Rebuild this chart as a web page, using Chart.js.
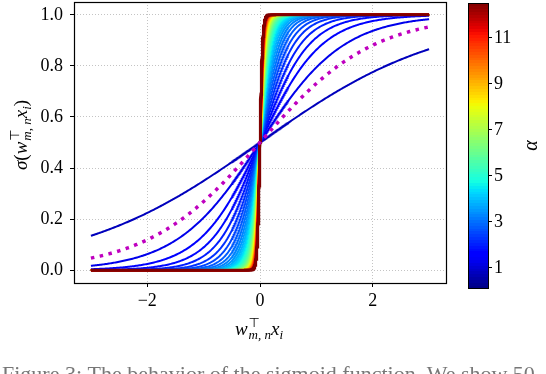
<!DOCTYPE html>
<html><head><meta charset="utf-8">
<script src="https://cdn.jsdelivr.net/npm/chart.js@4/dist/chart.umd.min.js"></script>
<style>html,body{margin:0;padding:0;background:#fff}canvas{display:block}</style>
</head><body>
<canvas id="c" width="546" height="374"></canvas>
<script>
// ---- data ----
// colour value (alpha) of each curve, as placed on the colour bar
const alphas = [0.75, 1.25, 1.5, 1.75, 2.0, 2.25, 2.5, 2.75, 3.0, 3.25, 3.5, 3.75, 4.0, 4.25, 4.5,
  4.75, 5.0, 5.25, 5.5, 5.75, 6.0, 6.25, 6.5, 6.75, 7.0, 7.25, 7.5, 7.75, 8.0, 8.25, 8.5, 8.75,
  9.0, 9.25, 9.5, 9.75, 10.0, 10.25, 10.5, 10.75, 11.0, 11.25, 11.5, 11.75, 12.0, 12.25, 12.5];
// steepness of each curve, estimated from where it crosses the 0.1 / 0.9 levels
const slopes = [0.62, 1.35, 1.84, 2.32, 2.83, 3.38, 3.95, 4.56, 5.2, 5.86, 6.55, 7.26, 8.0, 8.76, 9.55,
  10.35, 11.18, 12.03, 12.9, 13.79, 14.7, 15.63, 16.57, 17.54, 18.52, 19.52, 20.54, 21.57, 22.63, 23.7,
  24.78, 25.88, 27.0, 28.13, 29.28, 30.44, 31.62, 32.82, 34.02, 35.25, 36.48, 37.73, 39.0, 40.28,
  41.57, 42.88, 44.19];
const dottedSlope = 1.0;               // magenta dotted curve (standard sigmoid)
const xRange = [-3, 3];
const xTicks = [-2, 0, 2];
const yTicks = [0, 0.2, 0.4, 0.6, 0.8, 1.0];
const cbRange = [0.1, 12.5];
const cbTicks = [1, 3, 5, 7, 9, 11];
const caption = "Figure 3: The behavior of the sigmoid function. We show 50";

// ---- helpers ----
const jetR=[[0,0],[0.35,0],[0.66,1],[0.89,1],[1,0.5]];
const jetG=[[0,0],[0.125,0],[0.375,1],[0.64,1],[0.91,0],[1,0]];
const jetB=[[0,0.5],[0.11,1],[0.34,1],[0.65,0],[1,0]];
function seg(s,t){t=Math.max(0,Math.min(1,t));for(let i=1;i<s.length;i++){if(t<=s[i][0]){const a=s[i-1],b=s[i];return a[1]+(b[1]-a[1])*(t-a[0])/(b[0]-a[0]);}}return s[s.length-1][1];}
function jet(t){return 'rgb('+Math.round(255*seg(jetR,t))+','+Math.round(255*seg(jetG,t))+','+Math.round(255*seg(jetB,t))+')';}
function norm(a){return (a-cbRange[0])/(cbRange[1]-cbRange[0]);}
// sample positions along the x axis (finer near 0 where the steep curves turn)
const xs=[];
for(let x=-3;x<-0.5-1e-9;x+=0.02) xs.push(+x.toFixed(4));
for(let x=-0.5;x<0.5-1e-9;x+=0.002) xs.push(+x.toFixed(4));
for(let x=0.5;x<=3+1e-9;x+=0.02) xs.push(+x.toFixed(4));
function sig(k,x){return 1/(1+Math.exp(-k*x));}
function curve(k){return xs.map(x=>({x:x,y:sig(k,x)}));}

const datasets = alphas.map((a,i)=>({
  data: curve(slopes[i]), borderColor: jet(norm(a)), borderWidth: (i===alphas.length-1)?3.2:2,
  pointRadius:0, tension:0, fill:false, order: alphas.length-i+1
}));
datasets.push({data: curve(dottedSlope), borderColor:'#bf00bf', borderWidth:3.5,
  borderDash:[3.5,5.5], borderCapStyle:'butt', pointRadius:0, tension:0, fill:false, order:0});

const SERIF = '"Liberation Serif","Times New Roman",serif';
const GEO = {cbL:468, cbR:488, cbT:3, cbB:288};
const MS = 19, SS = 13;

function drawMath(ctx, parts, cx, cy){
  function w(p){
    if(p.stack){ctx.font=SS+'px "DejaVu Sans",sans-serif';const a=ctx.measureText(p.sup).width;
      ctx.font='italic '+SS+'px '+SERIF;const b=ctx.measureText(p.sub).width;return Math.max(a,b)+1;}
    ctx.font=(p.it?'italic ':'')+(p.s||MS)+'px '+SERIF;return ctx.measureText(p.t).width;
  }
  let total=0;parts.forEach(p=>total+=w(p));
  let x=cx-total/2;
  ctx.textBaseline='alphabetic';ctx.textAlign='left';ctx.fillStyle='#000';
  parts.forEach(p=>{
    const ww=w(p);
    if(p.stack){
      ctx.font=SS+'px "DejaVu Sans",sans-serif';ctx.fillText(p.sup,x+1,cy-8);
      ctx.font='italic '+SS+'px '+SERIF;ctx.fillText(p.sub,x+1,cy+4);
    } else {
      ctx.font=(p.it?'italic ':'')+(p.s||MS)+'px '+SERIF;ctx.fillText(p.t,x,cy+(p.dy||0));
    }
    x+=ww;
  });
}

const deco = {
  id:'deco',
  afterDraw(chart){
    const ctx=chart.ctx, a=chart.chartArea;
    ctx.save();
    ctx.strokeStyle='#000';ctx.lineWidth=1.2;
    ctx.strokeRect(a.left+0.5,a.top+0.5,a.right-a.left,a.bottom-a.top);
    const g=GEO, N=100;
    for(let k=0;k<N;k++){
      const y0=g.cbB-(g.cbB-g.cbT)*k/N, y1=g.cbB-(g.cbB-g.cbT)*(k+1)/N;
      ctx.fillStyle=jet((k+0.5)/N);
      ctx.fillRect(g.cbL,Math.floor(y1),g.cbR-g.cbL,Math.ceil(y0)-Math.floor(y1));
    }
    ctx.strokeStyle='#000';ctx.lineWidth=1;
    ctx.strokeRect(g.cbL+0.5,g.cbT+0.5,g.cbR-g.cbL,g.cbB-g.cbT);
    ctx.font='18px '+SERIF;ctx.fillStyle='#000';ctx.textBaseline='middle';ctx.textAlign='left';
    cbTicks.forEach(v=>{
      const y=g.cbB-(g.cbB-g.cbT)*norm(v);
      ctx.beginPath();ctx.moveTo(g.cbR,Math.round(y)+0.5);ctx.lineTo(g.cbR+4,Math.round(y)+0.5);ctx.stroke();
      ctx.fillText(String(v),g.cbR+6,y+1);
    });
    ctx.save();ctx.translate(532,(g.cbT+g.cbB)/2);ctx.rotate(-Math.PI/2);
    ctx.font='italic 20px '+SERIF;ctx.textAlign='center';ctx.textBaseline='middle';ctx.fillText('α',0,0);
    ctx.restore();
    const lab=[{t:'w',it:true},{stack:true,sup:'⊤',sub:'m, n'},{t:'x',it:true},{t:'i',it:true,s:SS,dy:4}];
    drawMath(ctx,lab,(a.left+a.right)/2-1,335);
    ctx.save();ctx.translate(27,135);ctx.rotate(-Math.PI/2);
    drawMath(ctx,[{t:'σ',it:true},{t:'('}].concat(lab,[{t:')'}]),0,0);
    ctx.restore();
    ctx.font='22px '+SERIF;ctx.fillStyle='#777';ctx.textAlign='left';ctx.textBaseline='alphabetic';
    ctx.fillText(caption,2,381);
    ctx.restore();
  }
};

new Chart(document.getElementById('c'),{
  type:'line',
  data:{datasets},
  options:{
    responsive:false, animation:false, devicePixelRatio:1,
    layout:{padding:{left:0,right:100,top:2,bottom:0}},
    plugins:{legend:{display:false},tooltip:{enabled:false}},
    scales:{
      x:{type:'linear',min:-3.3,max:3.3,
        afterBuildTicks:s=>{s.ticks=xTicks.map(v=>({value:v}));},
        afterFit:s=>{s.height=91;s.paddingLeft=0;s.paddingRight=0;},
        ticks:{callback:v=>String(v).replace('-','\u2212'),font:{family:SERIF,size:18},color:'#000',padding:3,maxRotation:0,autoSkip:false},
        grid:{color:'#c4c4c4',lineWidth:1,tickColor:'#000',tickLength:4,tickWidth:1,tickBorderDash:[]},
        border:{display:false,dash:[1,2]}},
      y:{type:'linear',min:-0.05,max:1.05,
        afterBuildTicks:s=>{s.ticks=yTicks.map(v=>({value:v}));},
        afterFit:s=>{s.width=74;s.paddingTop=0;s.paddingBottom=0;},
        ticks:{callback:v=>Number(v).toFixed(1),font:{family:SERIF,size:18},color:'#000',padding:7,autoSkip:false},
        grid:{color:'#c4c4c4',lineWidth:1,tickColor:'#000',tickLength:4,tickWidth:1,tickBorderDash:[]},
        border:{display:false,dash:[1,2]}}
    }
  },
  plugins:[deco]
});
</script>
</body></html>
